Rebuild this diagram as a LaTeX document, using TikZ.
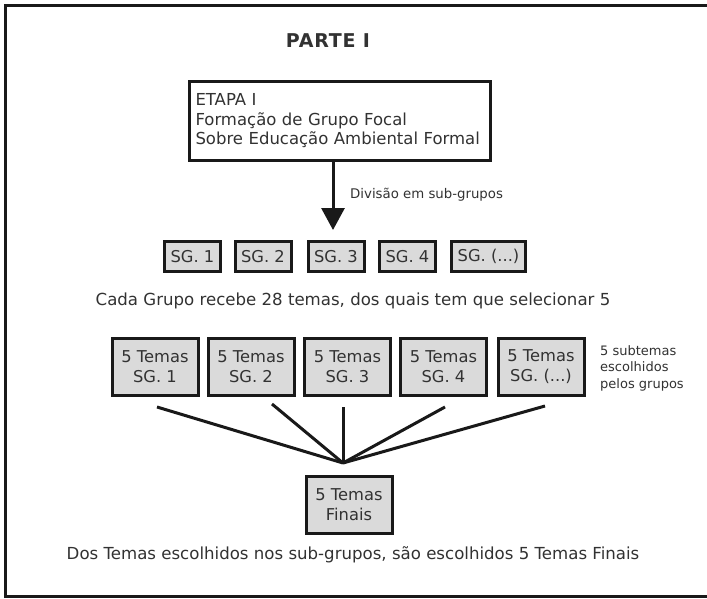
\documentclass[tikz,border=0pt]{standalone}
\usepackage{fontspec}
\setmainfont{DejaVu Sans}
\usetikzlibrary{arrows.meta}
\definecolor{boxfill}{RGB}{218,218,218}
\definecolor{txt}{RGB}{50,50,50}
\definecolor{ln}{RGB}{25,25,25}
\begin{document}
\begin{tikzpicture}[x=1pt,y=-1pt,
  sgbox/.style={draw=ln, line width=3pt, fill=boxfill, inner sep=0pt, minimum width=56pt, minimum height=30pt, text=txt, font=\fontsize{16.3}{19}\selectfont},
  tbox/.style={draw=ln, line width=3pt, fill=boxfill, inner sep=0pt, minimum width=86pt, minimum height=57pt, align=center, text=txt, font=\fontsize{16.3}{20}\selectfont},
  lbl/.style={text=txt, inner sep=0pt},
  link/.style={draw=ln, line width=3pt}
]
\useasboundingbox (0,0) rectangle (707,598);
\fill[white] (0,0) rectangle (707,598);
% outer frame (right side lies beyond the picture)
\draw[ln, line width=3pt] (712,5.5) -- (5.5,5.5) -- (5.5,596.5) -- (712,596.5);

\node[lbl, font=\bfseries\fontsize{19}{21}\selectfont\addfontfeature{LetterSpace=4}] (title) at (328,41) {PARTE I};

\node[draw=ln, line width=3pt, fill=white, inner sep=0pt, minimum width=301pt, minimum height=79pt,
      text width=289pt, align=left, text=txt, font=\fontsize{16.5}{19.5}\selectfont] (etapa) at (340,121)
  {ETAPA I\\Formação de Grupo Focal\\Sobre Educação Ambiental Formal};

\node[sgbox] (sg1) at (192.5,256.5) {SG. 1};
\node[sgbox] (sg2) at (263,256.5) {SG. 2};
\node[sgbox] (sg3) at (336,256.5) {SG. 3};
\node[sgbox] (sg4) at (407.5,256.5) {SG. 4};
\node[sgbox, minimum width=74pt] (sg5) at (488.5,256.5) {SG. (...)};

\coordinate (tip) at (333,230);
\draw[link, -{Triangle[width=23pt,length=22pt]}] (etapa.south -| tip) -- (tip);
\node[lbl, anchor=base west, font=\fontsize{13.3}{16}\selectfont] (div) at (350,198) {Divisão em sub-grupos};

\node[lbl, font=\fontsize{16.6}{19}\selectfont] (cada) at (353,301) {Cada Grupo recebe 28 temas, dos quais tem que selecionar 5};

\node[tbox] (t1) at (155,367) {5 Temas\\SG. 1};
\node[tbox] (t2) at (251,367) {5 Temas\\SG. 2};
\node[tbox] (t3) at (347.5,367) {5 Temas\\SG. 3};
\node[tbox] (t4) at (443.5,367) {5 Temas\\SG. 4};
\node[tbox] (t5) at (541,367) {5 Temas\\SG. (...)};

\node[lbl, anchor=west, align=left, font=\fontsize{13}{16.5}\selectfont] (sub) at (600,368) {5 subtemas\\escolhidos\\pelos grupos};

\coordinate (c1) at (157,407);
\coordinate (c2) at (272,404);
\coordinate (c3) at (343,407);
\coordinate (c4) at (445,407);
\coordinate (c5) at (545,406);
\coordinate (meet) at (343,463);
\draw[link] (c1) -- (meet);
\draw[link] (c2) -- (meet);
\draw[link] (c3) -- (meet);
\draw[link] (c4) -- (meet);
\draw[link] (c5) -- (meet);

\node[tbox] (fin) at (349,505) {5 Temas\\Finais};

\node[lbl, font=\fontsize{16.6}{19}\selectfont] (dos) at (353,555) {Dos Temas escolhidos nos sub-grupos, são escolhidos 5 Temas Finais};
\end{tikzpicture}
\end{document}
